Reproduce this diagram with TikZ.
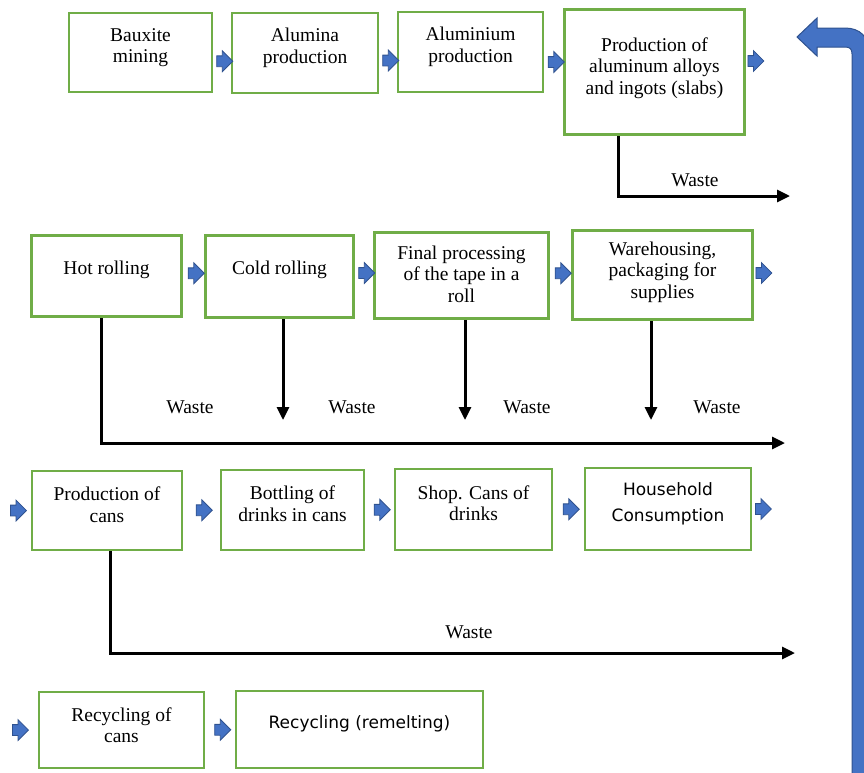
\documentclass[tikz,border=0pt]{standalone}
\usepackage{fontspec}
\usepackage{tikz}
\usetikzlibrary{arrows.meta, positioning, shapes.arrows, calc}
\setmainfont{Liberation Serif}
\newfontfamily\sansfam{DejaVu Sans}
\definecolor{verde}{HTML}{70AD47}
\definecolor{azul}{HTML}{4472C4}
\definecolor{azuloscuro}{HTML}{2F528F}

\begin{document}
\begin{tikzpicture}[
  x=1pt, y=-1pt,
  stage/.style={draw=verde, line width=2pt, rectangle, inner sep=0pt},
  heavy/.style={line width=3pt},
  txt/.style={align=center, font=\fontsize{19.5pt}{21.5pt}\selectfont},
  txtsans/.style={align=center, font=\sansfam\fontsize{17pt}{26pt}\selectfont},
  blk/.style={single arrow, draw=azuloscuro, fill=azul, line width=0.8pt,
              minimum height=16pt, minimum width=20pt,
              single arrow head extend=5pt, inner xsep=0pt, inner ysep=5pt},
  waste/.style={line width=3pt, -{Triangle[length=13pt,width=12pt]}},
  wlabel/.style={font=\fontsize{19.5pt}{21.5pt}\selectfont}
]
  \useasboundingbox (0,0) rectangle (864,772);
  \clip (0,0) rectangle (864,772);

  \node[stage, minimum width=143pt, minimum height=79pt,
        label={[txt,yshift=5pt]center:Bauxite\\mining}] (bauxite) at (140.5,52.5) {};
  \node[stage, minimum width=146pt, minimum height=80pt,
        label={[txt,yshift=5pt]center:Alumina\\production}] (alumina) at (305,53) {};
  \node[stage, minimum width=145pt, minimum height=80pt,
        label={[txt,yshift=5pt]center:Aluminium\\production}] (aluminium) at (470.5,52) {};
  \node[stage, heavy, minimum width=180pt, minimum height=125pt,
        label={[txt,yshift=4pt]center:Production of\\aluminum alloys\\and ingots (slabs)}] (alloys) at (654.5,72) {};

  \node[stage, heavy, minimum width=150pt, minimum height=81pt,
        label={[txt,yshift=6.5pt]center:Hot rolling}] (hot) at (106.5,276) {};
  \node[stage, heavy, minimum width=148pt, minimum height=82pt,
        label={[txt,yshift=7pt]center:Cold rolling}] (cold) at (279.5,276.5) {};
  \node[stage, heavy, minimum width=174pt, minimum height=86pt,
        label={[txt,yshift=1.5pt]center:Final processing\\of the tape in a\\roll}] (final) at (461.5,275.5) {};
  \node[stage, heavy, minimum width=180pt, minimum height=89pt,
        label={[txt,yshift=3pt]center:Warehousing,\\packaging for\\supplies}] (ware) at (662.5,275) {};

  \node[stage, minimum width=150pt, minimum height=79pt,
        label={[txt,yshift=6pt]center:Production of\\cans}] (cans) at (107,510.5) {};
  \node[stage, minimum width=143pt, minimum height=80pt,
        label={[txt,yshift=6.5pt]center:Bottling of\\drinks in cans}] (bottling) at (292.5,510) {};
  \node[stage, minimum width=157pt, minimum height=81pt,
        label={[txt,yshift=6.5pt]center:Shop. Cans of\\drinks}] (shop) at (473.5,509.5) {};
  \node[stage, minimum width=166pt, minimum height=82pt,
        label={[txtsans,yshift=5.5pt]center:Household\\Consumption}] (household) at (668,509) {};

  \node[stage, minimum width=165pt, minimum height=76pt,
        label={[txt,yshift=5pt]center:Recycling of\\cans}] (reccans) at (121.5,730) {};
  \node[stage, minimum width=247pt, minimum height=77pt,
        label={[txtsans,yshift=5.5pt]center:Recycling (remelting)}] (remelt) at (359.5,729.5) {};

  \node[blk] (a1) at ($(bauxite.east)!0.5!(alumina.west)+(0,8.5)$) {};
  \node[blk] (a2) at ($(alumina.east)!0.5!(aluminium.west)+(0,8)$) {};
  \node[blk] (a3) at ($(aluminium.east)!0.5!(alloys.west)$) {};
  \node[blk, right=1.5pt of alloys, yshift=11pt] (a4) {};
  \node[blk] (a5) at ($(hot.east)!0.5!(cold.west)+(0,-3)$) {};
  \node[blk] (a6) at ($(cold.east)!0.5!(final.west)+(0,-3)$) {};
  \node[blk] (a7) at ($(final.east)!0.5!(ware.west)+(0,-2)$) {};
  \node[blk, right=1.5pt of ware, yshift=2pt] (a8) {};
  \node[blk, left=4pt of cans] (a9) {};
  \node[blk] (a10) at ($(cans.east)!0.5!(bottling.west)$) {};
  \node[blk] (a11) at ($(bottling.east)!0.5!(shop.west)$) {};
  \node[blk] (a12) at ($(shop.east)!0.5!(household.west)$) {};
  \node[blk, right=3pt of household] (a13) {};
  \node[blk, left=9pt of reccans] (a14) {};
  \node[blk] (a15) at ($(reccans.east)!0.5!(remelt.west)$) {};

  \coordinate (w1) at (790,196);
  \coordinate (w2) at (785,443);
  \coordinate (w3) at (283,420);
  \coordinate (w4) at (465,420);
  \coordinate (w5) at (651,420);
  \coordinate (w6) at (795,653);
  \draw[waste] ([xshift=-36.5pt]alloys.south) |- (w1);
  \draw[waste] ([xshift=-5.5pt]hot.south) |- (w2);
  \draw[waste] (cold.south -| w3) -- (w3);
  \draw[waste] (final.south -| w4) -- (w4);
  \draw[waste] (ware.south -| w5) -- (w5);
  \draw[waste] ([xshift=3pt]cans.south) |- (w6);

  \node[wlabel] (l1) at (695,180) {Waste};
  \node[wlabel] (l2) at (190,407) {Waste};
  \node[wlabel] (l3) at (352,407) {Waste};
  \node[wlabel] (l4) at (527,407) {Waste};
  \node[wlabel] (l5) at (717,407) {Waste};
  \node[wlabel] (l6) at (469,632) {Waste};

  \filldraw[fill=azul, draw=azuloscuro, line width=1pt]
    (852,790) -- (852,54) .. controls (852,49) and (850,47) .. (845,47)
    -- (817,47) -- (817,56) -- (797,37) -- (817,18) -- (817,28) -- (845,28)
    .. controls (860,28) and (869,37) .. (869,52) -- (869,790) -- cycle;
\end{tikzpicture}
\end{document}
